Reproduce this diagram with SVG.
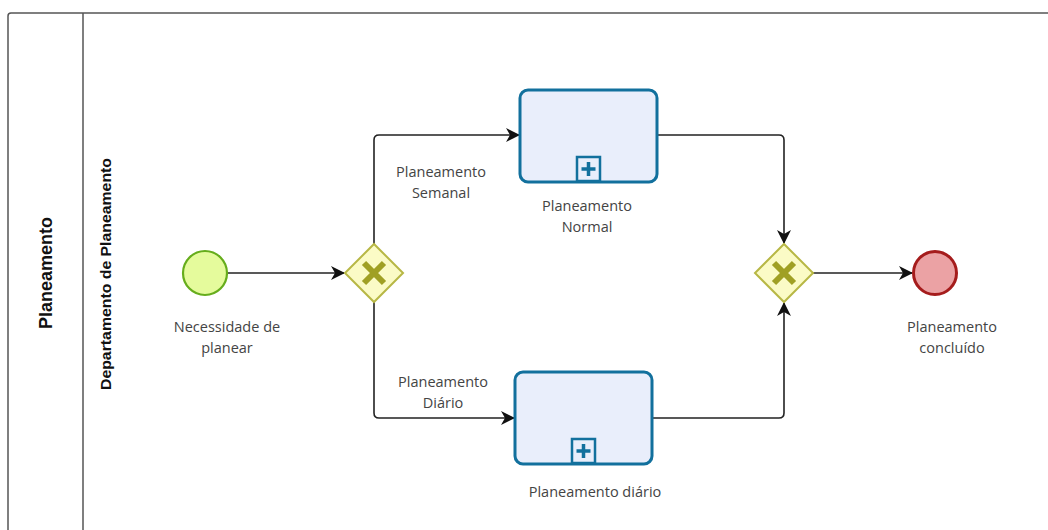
<svg xmlns="http://www.w3.org/2000/svg" width="1048" height="530" viewBox="0 0 1048 530">
  <style>
    .lbl { font-family: "Open Sans", "Liberation Sans", sans-serif; font-size: 14.5px; fill: #444; text-anchor: middle; }
    .head { font-family: "Liberation Sans", Arial, sans-serif; font-weight: bold; fill: #111; text-anchor: middle; }
    .flow { fill: none; stroke: #222; stroke-width: 1.6; stroke-linejoin: round; }
    .task { fill: #e9eefb; stroke: #12709d; stroke-width: 3; }
    .mark { fill: #e9eefb; stroke: #12709d; stroke-width: 2.5; }
    .gw { fill: #fbfbc6; stroke: #b7b745; stroke-width: 2; }
    .gwx { stroke: #a0a024; stroke-width: 6; stroke-linecap: butt; }
  </style>
  <defs>
    <marker id="arrow" viewBox="0 0 14 14" refX="13" refY="7" markerWidth="14" markerHeight="14" markerUnits="userSpaceOnUse" orient="auto">
      <path d="M0,0 L14,7 L0,14 L4,7 Z" fill="#111"/>
    </marker>
  </defs>
  <rect width="1048" height="530" fill="#ffffff"/>

  <!-- pool and lane -->
  <g id="pool">
    <path d="M8,540 V16 Q8,13 11,13 H1060" fill="none" stroke="#555" stroke-width="1.5"/>
    <line x1="83" y1="13" x2="83" y2="540" stroke="#555" stroke-width="1.5"/>
    <text class="head" font-size="18" transform="translate(52,273) rotate(-90)">Planeamento</text>
    <text class="head" font-size="14" textLength="232" lengthAdjust="spacingAndGlyphs" transform="translate(111,274) rotate(-90)">Departamento de Planeamento</text>
  </g>

  <!-- sequence flows -->
  <g id="connectors">
    <path class="flow" d="M227,273 H344" marker-end="url(#arrow)"/>
    <path class="flow" d="M374,244 V140 Q374,135 379,135 H519" marker-end="url(#arrow)"/>
    <path class="flow" d="M374,302 V413 Q374,418 379,418 H514" marker-end="url(#arrow)"/>
    <path class="flow" d="M657,135 H779 Q784,135 784,140 V243" marker-end="url(#arrow)"/>
    <path class="flow" d="M652,418 H779 Q784,418 784,413 V303" marker-end="url(#arrow)"/>
    <path class="flow" d="M813,273 H912" marker-end="url(#arrow)"/>
    <text class="lbl" x="441" y="177">Planeamento</text>
    <text class="lbl" x="441" y="198">Semanal</text>
    <text class="lbl" x="443" y="387">Planeamento</text>
    <text class="lbl" x="443" y="408">Diário</text>
  </g>

  <g id="start">
    <circle cx="205" cy="273" r="22" fill="#e5fb9c" stroke="#66ad1c" stroke-width="2.2"/>
    <text class="lbl" x="227" y="332">Necessidade de</text>
    <text class="lbl" x="227" y="353">planear</text>
  </g>

  <g id="split">
    <polygon class="gw" points="374,244 403,273 374,302 345,273"/>
    <path class="gwx" d="M364,263 L384,283 M384,263 L364,283"/>
  </g>

  <g id="task-normal">
    <rect class="task" x="520" y="90" width="137" height="92" rx="8"/>
    <rect class="mark" x="577" y="157" width="23" height="24"/>
    <path d="M588.5,162 V176 M581.5,169 H595.5" stroke="#12709d" stroke-width="3.5"/>
    <text class="lbl" x="587" y="211">Planeamento</text>
    <text class="lbl" x="587" y="232">Normal</text>
  </g>

  <g id="task-diario">
    <rect class="task" x="515" y="372" width="137" height="92" rx="8"/>
    <rect class="mark" x="572" y="439" width="23" height="24"/>
    <path d="M583.5,444 V458 M576.5,451 H590.5" stroke="#12709d" stroke-width="3.5"/>
    <text class="lbl" x="595" y="497">Planeamento diário</text>
  </g>

  <g id="join">
    <polygon class="gw" points="784,244 813,273 784,302 755,273"/>
    <path class="gwx" d="M774,263 L794,283 M794,263 L774,283"/>
  </g>

  <g id="end">
    <circle cx="935" cy="273" r="21.5" fill="#eba2a4" stroke="#a51c1c" stroke-width="3"/>
    <text class="lbl" x="952" y="332">Planeamento</text>
    <text class="lbl" x="952" y="353">concluído</text>
  </g>
</svg>
